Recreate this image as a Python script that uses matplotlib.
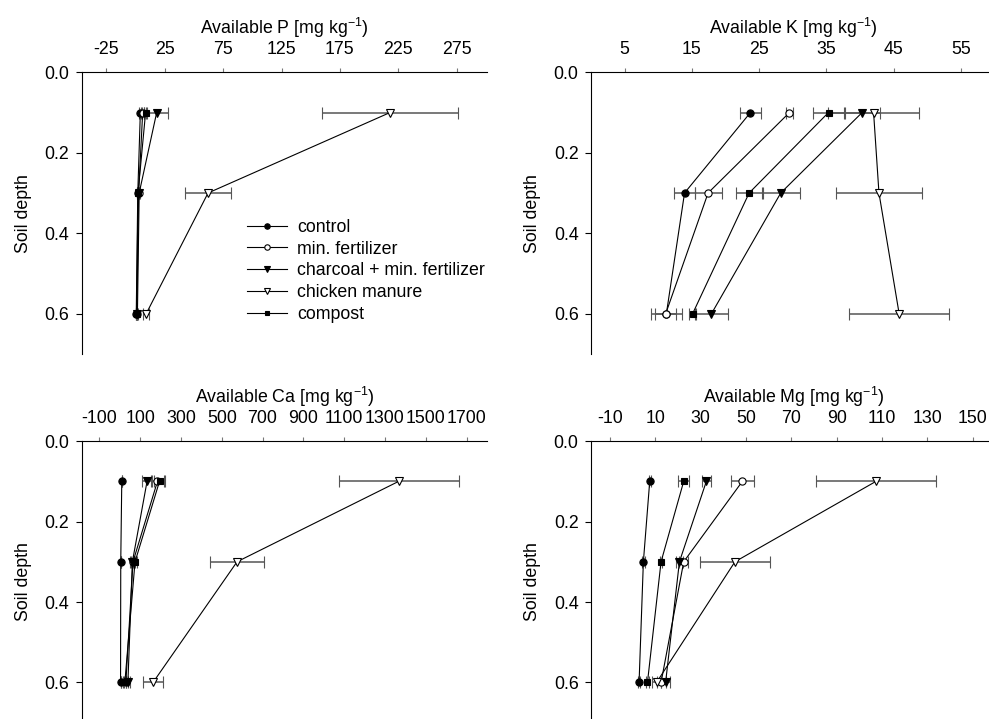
import matplotlib.pyplot as plt
from matplotlib.lines import Line2D
from matplotlib.ticker import FormatStrFormatter

plt.rcParams['font.family'] = ['Liberation Sans', 'DejaVu Sans']
plt.rcParams['mathtext.fontset'] = 'custom'
plt.rcParams['mathtext.rm'] = 'Liberation Sans'
plt.rcParams['mathtext.default'] = 'regular'
plt.rcParams['axes.unicode_minus'] = False

depth = [0.1, 0.3, 0.6]
treatments = ['control', 'min. fertilizer', 'charcoal + min. fertilizer',
              'chicken manure', 'compost']

# rows follow treatments, columns follow depth
p_mean = [[4, 1.8, 0.5], [6, 2.5, 1], [18, 3, 1.5], [218, 62, 9], [8.5, 2, 0.8]]
p_err = [[1, 0.5, 0.5], [1.5, 0.5, 0.5], [9.5, 1, 0.5], [58, 19.5, 2.5], [1.5, 0.5, 0.3]]

k_mean = [[23.7, 13.9, 11.2], [29.5, 17.4, 11.1], [40.3, 28.2, 17.9],
          [42.0, 42.8, 45.8], [35.3, 23.5, 15.1]]
k_err = [[1.6, 1.5, 2.3], [0.5, 2.0, 1.6], [2.6, 2.8, 2.4],
         [6.8, 6.4, 7.4], [2.3, 2.0, 0.5]]

ca_mean = [[10, 5, 4], [185, 65, 30], [134, 62, 40], [1368, 575, 163], [195, 75, 25]]
ca_err = [[0, 0, 0], [30, 10, 10], [24, 10, 8], [294, 131, 47], [28, 12, 8]]

mg_mean = [[7.5, 4.7, 2.8], [48.4, 22.5, 12.5], [32.5, 20.6, 14.5],
           [107.4, 45.1, 10.5], [22.5, 12.5, 6.5]]
mg_err = [[0.5, 0.5, 0.5], [5, 2, 2], [2, 1.5, 2], [26.6, 15.4, 2], [2.4, 0.5, 0.5]]

markers = ['o', 'o', 'v', 'v', 's']
faces = ['k', 'w', 'k', 'w', 'k']
sizes = [5.2, 5.2, 5.5, 5.5, 4.6]

fig = plt.figure(figsize=(9.89, 7.19), dpi=100)
w, h = 0.4095, 0.3918
panels = [
    ([0.0829, 0.5077, w, h], p_mean, p_err, 'P', (-46, 301), [-25, 25, 75, 125, 175, 225, 275]),
    ([0.5976, 0.5077, w, h], k_mean, k_err, 'K', (0, 60.2), [5, 15, 25, 35, 45, 55]),
    ([0.0829, -0.0052, w, h], ca_mean, ca_err, 'Ca', (-185, 1800),
     [-100, 100, 300, 500, 700, 900, 1100, 1300, 1500, 1700]),
    ([0.5976, -0.0052, w, h], mg_mean, mg_err, 'Mg', (-18.4, 160.3),
     [-10, 10, 30, 50, 70, 90, 110, 130, 150]),
]

fs = 12.8
for i, (pos, mean, err, name, xl, xt) in enumerate(panels):
    ax = fig.add_axes(pos)
    for j in range(5):
        ax.errorbar(mean[j], depth, xerr=err[j], color='k', lw=0.8,
                    ecolor='#555555', elinewidth=1.1, capsize=4, capthick=1.1,
                    marker=markers[j], ms=sizes[j], mfc=faces[j], mec='k', mew=0.8)
    ax.set_xlim(*xl)
    ax.set_ylim(0.7, 0)
    ax.set_xticks(xt)
    ax.set_yticks([0, 0.2, 0.4, 0.6])
    ax.yaxis.set_major_formatter(FormatStrFormatter('%.1f'))
    ax.xaxis.tick_top()
    ax.xaxis.set_label_position('top')
    ax.set_xlabel('Available ' + name + ' [mg kg$^{-1}$)', fontsize=fs, labelpad=5)
    ax.set_ylabel('Soil depth', fontsize=fs, labelpad=9)
    ax.spines['right'].set_visible(False)
    ax.spines['bottom'].set_visible(False)
    ax.tick_params(axis='x', direction='out', length=3, width=0.8, color='#777777',
                   labelsize=fs, pad=7)
    ax.tick_params(axis='y', direction='out', length=4, width=0.8, labelsize=fs, pad=5)
    if i == 0:
        handles = [Line2D([], [], color='k', lw=0.8, marker=markers[j], ms=sizes[j] * 0.75,
                          mfc=faces[j], mec='k', mew=0.8) for j in range(5)]
        ax.legend(handles, treatments, loc='center left', bbox_to_anchor=(0.407, 0.295),
                  frameon=False, fontsize=fs, handlelength=2.25, handletextpad=0.6,
                  labelspacing=0.27, borderpad=0, borderaxespad=0)

fig.savefig('out.png', dpi=100)
